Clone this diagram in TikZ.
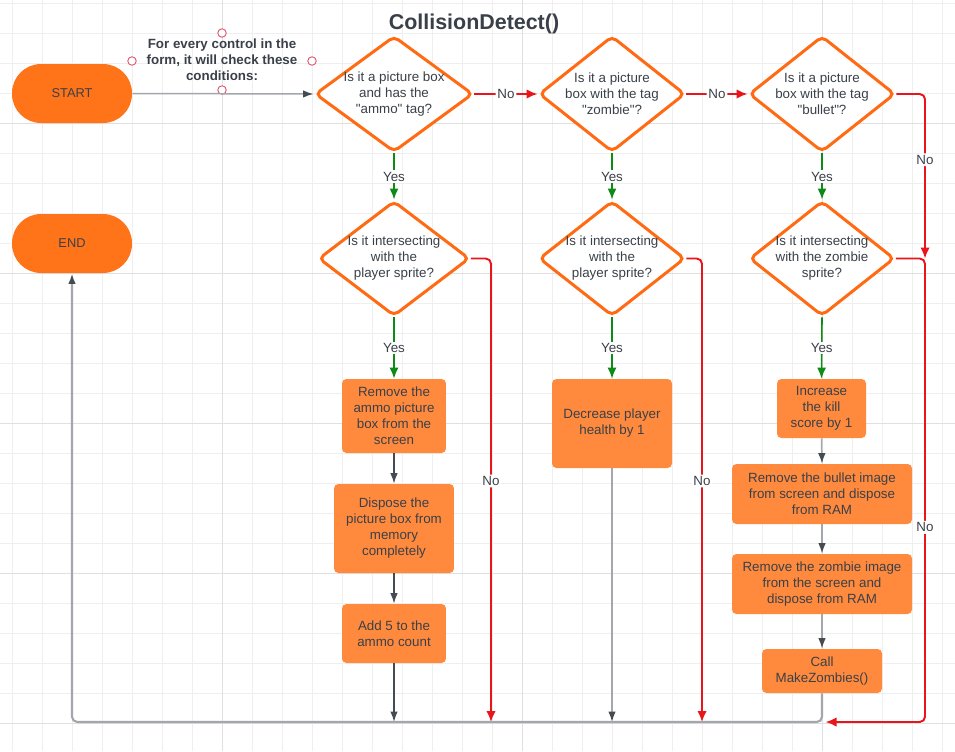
\documentclass[tikz,border=0pt]{standalone}
\usepackage{fontspec}
\setmainfont{Liberation Sans}[Ligatures=TeXOff]
\usetikzlibrary{arrows.meta,calc,positioning,shapes.geometric}
\definecolor{CDTerminal}{HTML}{FF7419}
\definecolor{CDBoxFill}{HTML}{FF8A3D}
\definecolor{CDEdge}{HTML}{FF6A13}
\definecolor{CDText}{HTML}{3A4049}
\definecolor{CDRed}{HTML}{E8151B}
\definecolor{CDGreen}{HTML}{0E8A16}
\definecolor{CDGreyLine}{HTML}{A3A7AC}
\definecolor{CDDarkLine}{HTML}{454B53}
\definecolor{CDHandle}{HTML}{E0506A}
\definecolor{CDGridMinor}{HTML}{EFEFEF}
\definecolor{CDGridMajor}{HTML}{E0E0E0}
\newcommand{\CDTitleFont}{\fontsize{12.2}{14}\selectfont\bfseries}
\newcommand{\CDNoteFont}{\fontsize{7.6}{9.1}\selectfont\bfseries}
\newcommand{\CDBodyFont}{\fontsize{7.6}{9.1}\selectfont}
\newcommand{\CDStartFont}{\fontsize{7.3}{8.8}\selectfont}
\tikzset{
  cdbase/.style={
    align=center,
    text=CDText,
    font=\CDBodyFont,
    inner sep=1pt
  },
  terminalbox/.style={
    cdbase,
    rectangle,
    fill=CDTerminal,
    rounded corners=0.58cm,
    minimum width=2.4cm,
    minimum height=1.18cm,
    font=\CDStartFont
  },
  decisionbox/.style={
    diamond,
    draw=CDEdge,
    fill=white,
    line width=1.7pt,
    rounded corners=3pt,
    inner sep=0pt
  },
  decisiontext/.style={cdbase},
  actionbox/.style={
    cdbase,
    rectangle,
    fill=CDBoxFill,
    rounded corners=2.5pt
  },
  greyarrow/.style={
    -{Latex[length=2.1mm,width=1.5mm,color=CDDarkLine]},
    draw=CDGreyLine,
    line width=0.85pt
  },
  darkarrow/.style={
    -{Latex[length=2.1mm,width=1.5mm]},
    draw=CDDarkLine,
    line width=0.85pt
  },
  yesarrow/.style={
    -{Latex[length=2.2mm,width=1.8mm]},
    draw=CDGreen,
    line width=0.9pt
  },
  noarrow/.style={
    -{Latex[length=2.2mm,width=1.9mm]},
    draw=CDRed,
    line width=1.1pt,
    rounded corners=3pt
  },
  returnline/.style={
    -{Latex[length=2.1mm,width=1.5mm,color=CDDarkLine]},
    draw=CDGreyLine,
    line width=1.2pt,
    rounded corners=3pt
  },
  arrowlabel/.style={
    fill=white,
    inner sep=1pt,
    text=CDText,
    font=\CDBodyFont
  },
  handle/.style={
    circle,
    draw=CDHandle,
    fill=white,
    line width=0.5pt,
    minimum size=0.17cm,
    inner sep=0pt
  }
}

\begin{document}
\begin{tikzpicture}[x=0.02cm,y=-0.02cm]
\path[use as bounding box] (0,0) rectangle (955,751);
\fill[white] (0,0) rectangle (955,751);

% background grid
\foreach \gx in {12,42,...,942} \draw[CDGridMinor, line width=0.5pt] (\gx,0) -- (\gx,751);
\foreach \gy in {3,33,...,723} \draw[CDGridMinor, line width=0.5pt] (0,\gy) -- (955,\gy);
\foreach \gx in {222,522,822} \draw[CDGridMajor, line width=0.55pt] (\gx,0) -- (\gx,751);
\foreach \gy in {123,273,423,573,723} \draw[CDGridMajor, line width=0.55pt] (0,\gy) -- (955,\gy);

\node[font=\CDTitleFont, text=CDText] (title) at (474,24) {CollisionDetect()};

\node[terminalbox] (startnode) at (72,93.5) {START};
\node[terminalbox] (endnode) at (72,243.5) {END};

\node[cdbase, font=\CDNoteFont] (notetext) at (222,60)
  {For every control in the\\form, it will check these\\conditions:};
\foreach \hx/\hy/\hn in {222/33/n,132/61/w,312/61/e,222/90/s}
  \node[handle] (handle\hn) at (\hx,\hy) {};

% first row of questions
\node[decisionbox, minimum width=3.16cm, minimum height=2.32cm] (qammo) at (394,94) {};
\node[decisiontext] (qammotext) at (qammo) {Is it a picture box\\and has the\\"ammo" tag?};
\node[decisionbox, minimum width=2.92cm, minimum height=2.32cm] (qzombie) at (612,94) {};
\node[decisiontext] (qzombietext) at (qzombie) {Is it a picture\\box with the tag\\"zombie"?};
\node[decisionbox, minimum width=2.92cm, minimum height=2.32cm] (qbullet) at (822,94) {};
\node[decisiontext] (qbullettext) at (qbullet) {Is it a picture\\box with the tag\\"bullet"?};

% second row of questions
\node[decisionbox, minimum width=3.02cm, minimum height=2.3cm] (hitammo) at (394,258.5) {};
\node[decisiontext] (hitammotext) at (hitammo) {Is it intersecting\\with the\\player sprite?};
\node[decisionbox, minimum width=2.92cm, minimum height=2.3cm] (hitplayer) at (612,258.5) {};
\node[decisiontext] (hitplayertext) at (hitplayer) {Is it intersecting\\with the\\player sprite?};
\node[decisionbox, minimum width=2.9cm, minimum height=2.3cm] (hitzombie) at (822,258.5) {};
\node[decisiontext] (hitzombietext) at (hitzombie) {Is it intersecting\\with the zombie\\sprite?};

% actions
\node[actionbox, minimum width=2.08cm, minimum height=1.48cm] (ammoremove) at (394,416)
  {Remove the\\ammo picture\\box from the\\screen};
\node[actionbox, minimum width=2.4cm, minimum height=1.78cm] (ammodispose) at (394,528.5)
  {Dispose the\\picture box from\\memory\\completely};
\node[actionbox, minimum width=2.08cm, minimum height=1.18cm] (ammoadd) at (394,633.5)
  {Add 5 to the\\ammo count};
\node[actionbox, minimum width=2.4cm, minimum height=1.78cm] (healthdown) at (612,423.5)
  {Decrease player\\health by 1};
\node[actionbox, minimum width=1.78cm, minimum height=1.18cm] (killup) at (821.5,408.5)
  {Increase\\the kill\\score by 1};
\node[actionbox, minimum width=3.6cm, minimum height=1.2cm] (bulletremove) at (822,494)
  {Remove the bullet image\\from screen and dispose\\from RAM};
\node[actionbox, minimum width=3.6cm, minimum height=1.2cm] (zombieremove) at (822,584)
  {Remove the zombie image\\from the screen and\\dispose from RAM};
\node[actionbox, minimum width=2.4cm, minimum height=0.88cm] (callmake) at (822,671)
  {Call\\MakeZombies()};

\coordinate (busL) at (72,722);
\coordinate (busR) at (822,722);
\coordinate (rail) at (925,258.5);
\coordinate (railbot) at (925,722);
\coordinate (noammo) at (491,722);
\coordinate (noplayer) at (702,722);

\draw[greyarrow] (startnode.east) -- (qammo.west);

\draw[noarrow] (qammo.east) -- node[arrowlabel] {No} (qzombie.west);
\draw[noarrow] (qzombie.east) -- node[arrowlabel] {No} (qbullet.west);
\draw[noarrow] (qbullet.east) -- (qbullet.east -| rail) -- node[arrowlabel, pos=0.4] {No} (rail);

\draw[yesarrow] (qammo.south) -- node[arrowlabel] {Yes} (hitammo.north);
\draw[yesarrow] (qzombie.south) -- node[arrowlabel] {Yes} (hitplayer.north);
\draw[yesarrow] (qbullet.south) -- node[arrowlabel] {Yes} (hitzombie.north);
\draw[yesarrow] (hitammo.south) -- node[arrowlabel] {Yes} (ammoremove.north);
\draw[yesarrow] (hitplayer.south) -- node[arrowlabel] {Yes} (healthdown.north);
\draw[yesarrow] (hitzombie.south) -- node[arrowlabel] {Yes} (killup.north);

\draw[noarrow] (hitammo.east) -- (hitammo.east -| noammo) -- node[arrowlabel, pos=0.48] {No} (noammo);
\draw[noarrow] (hitplayer.east) -- (hitplayer.east -| noplayer) -- node[arrowlabel, pos=0.48] {No} (noplayer);

\draw[darkarrow] (ammoremove.south) -- (ammodispose.north);
\draw[darkarrow] (ammodispose.south) -- (ammoadd.north);
\draw[darkarrow] (ammoadd.south) -- (ammoadd.south |- busL);
\draw[greyarrow] (healthdown.south) -- (healthdown.south |- busL);
\draw[greyarrow] (killup.south) -- (bulletremove.north);
\draw[greyarrow] (bulletremove.south) -- (zombieremove.north);
\draw[greyarrow] (zombieremove.south) -- (callmake.north);

\draw[returnline] (callmake.south) -- (busR) -- (busL) -- (endnode.south);
\draw[noarrow] (hitzombie.east) -- (rail) -- node[arrowlabel, pos=0.58] {No} (railbot) -- ([xshift=2pt]busR);
\end{tikzpicture}
\end{document}
